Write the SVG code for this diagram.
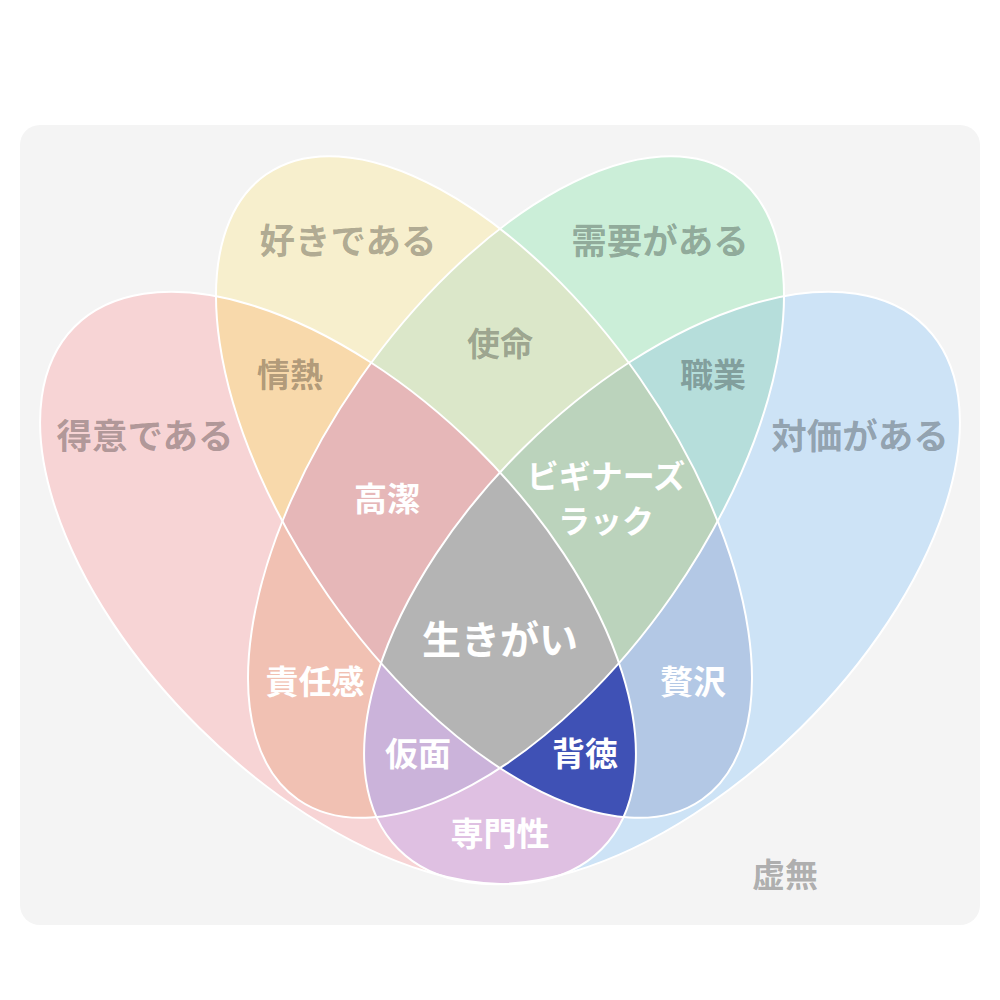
<svg xmlns="http://www.w3.org/2000/svg" width="1000" height="1000" viewBox="0 0 1000 1000">
<style>
.lbl{font-family:"Noto Sans CJK JP","Noto Sans",sans-serif;font-weight:700;text-anchor:middle;dominant-baseline:central}
.dark{fill:#000;fill-opacity:0.3;font-size:35.5px}
.mid{fill:#000;fill-opacity:0.3;font-size:33px}
.white{fill:#fff;font-size:33px}
.edge{fill:none;stroke:#fff;stroke-width:2}
</style>
<defs>
<ellipse id="eR" cx="338" cy="588" rx="371" ry="197" transform="rotate(44.7 338 588)"/>
<ellipse id="eB" cx="662" cy="588" rx="371" ry="197" transform="rotate(-44.7 662 588)"/>
<ellipse id="eY" cx="484" cy="487" rx="381" ry="190" transform="rotate(55.1 484 487)"/>
<ellipse id="eG" cx="516" cy="487" rx="381" ry="190" transform="rotate(-55.1 516 487)"/>
<clipPath id="cR"><use href="#eR"/></clipPath>
<clipPath id="cB"><use href="#eB"/></clipPath>
<clipPath id="cY"><use href="#eY"/></clipPath>
<clipPath id="cG"><use href="#eG"/></clipPath>
</defs>
<rect x="20" y="125" width="960" height="800" rx="20" fill="#f4f4f4"/>
<g id="sets">
<g id="set-tokui"><use href="#eR" fill="#f7d4d5"/></g>
<g id="set-taika"><use href="#eB" fill="#cde3f6"/></g>
<g id="set-suki"><use href="#eY" fill="#f7efcd"/></g>
<g id="set-juyou"><use href="#eG" fill="#cbeed8"/></g>
</g>
<g id="regions">
<g id="r-jounetsu" clip-path="url(#cY)"><use href="#eR" fill="#f8d9ab"/></g>
<g id="r-shimei" clip-path="url(#cY)"><use href="#eG" fill="#dbe7c9"/></g>
<g id="r-shokugyou" clip-path="url(#cG)"><use href="#eB" fill="#b6dedb"/></g>
<g id="r-senmon" clip-path="url(#cR)"><use href="#eB" fill="#dfc0e2"/></g>
<g id="r-sekinin" clip-path="url(#cR)"><use href="#eG" fill="#f1c1b3"/></g>
<g id="r-zeitaku" clip-path="url(#cY)"><use href="#eB" fill="#b3c8e5"/></g>
<g id="r-kouketsu" clip-path="url(#cR)"><g clip-path="url(#cY)"><use href="#eG" fill="#e6b7b8"/></g></g>
<g id="r-beginners" clip-path="url(#cB)"><g clip-path="url(#cY)"><use href="#eG" fill="#bbd3bc"/></g></g>
<g id="r-kamen" clip-path="url(#cR)"><g clip-path="url(#cB)"><use href="#eG" fill="#cbb3da"/></g></g>
<g id="r-haitoku" clip-path="url(#cR)"><g clip-path="url(#cB)"><use href="#eY" fill="#3f51b5"/></g></g>
<g id="r-ikigai" clip-path="url(#cR)"><g clip-path="url(#cB)"><g clip-path="url(#cY)"><use href="#eG" fill="#b4b4b4"/></g></g></g>
</g>
<g id="outlines">
<use href="#eR" class="edge"/>
<use href="#eB" class="edge"/>
<use href="#eY" class="edge"/>
<use href="#eG" class="edge"/>
</g>
<g id="labels">
<text class="lbl dark" x="145" y="433">得意である</text>
<text class="lbl dark" x="348" y="238">好きである</text>
<text class="lbl dark" x="660" y="238">需要がある</text>
<text class="lbl dark" x="860" y="433">対価がある</text>
<text class="lbl mid" x="290" y="373">情熱</text>
<text class="lbl mid" x="500" y="342">使命</text>
<text class="lbl mid" x="713" y="373">職業</text>
<text class="lbl white" x="387" y="497">高潔</text>
<text class="lbl white" x="606" y="474" style="font-size:32px"><tspan x="606" y="474">ビギナーズ</tspan><tspan x="606" y="519">ラック</tspan></text>
<text class="lbl white" x="500" y="637" style="font-size:39px">生きがい</text>
<text class="lbl white" x="315" y="680">責任感</text>
<text class="lbl white" x="693" y="680">贅沢</text>
<text class="lbl white" x="418" y="752">仮面</text>
<text class="lbl white" x="585" y="752">背徳</text>
<text class="lbl white" x="500" y="832">専門性</text>
<text class="lbl mid" x="785" y="873">虚無</text>
</g>
</svg>
